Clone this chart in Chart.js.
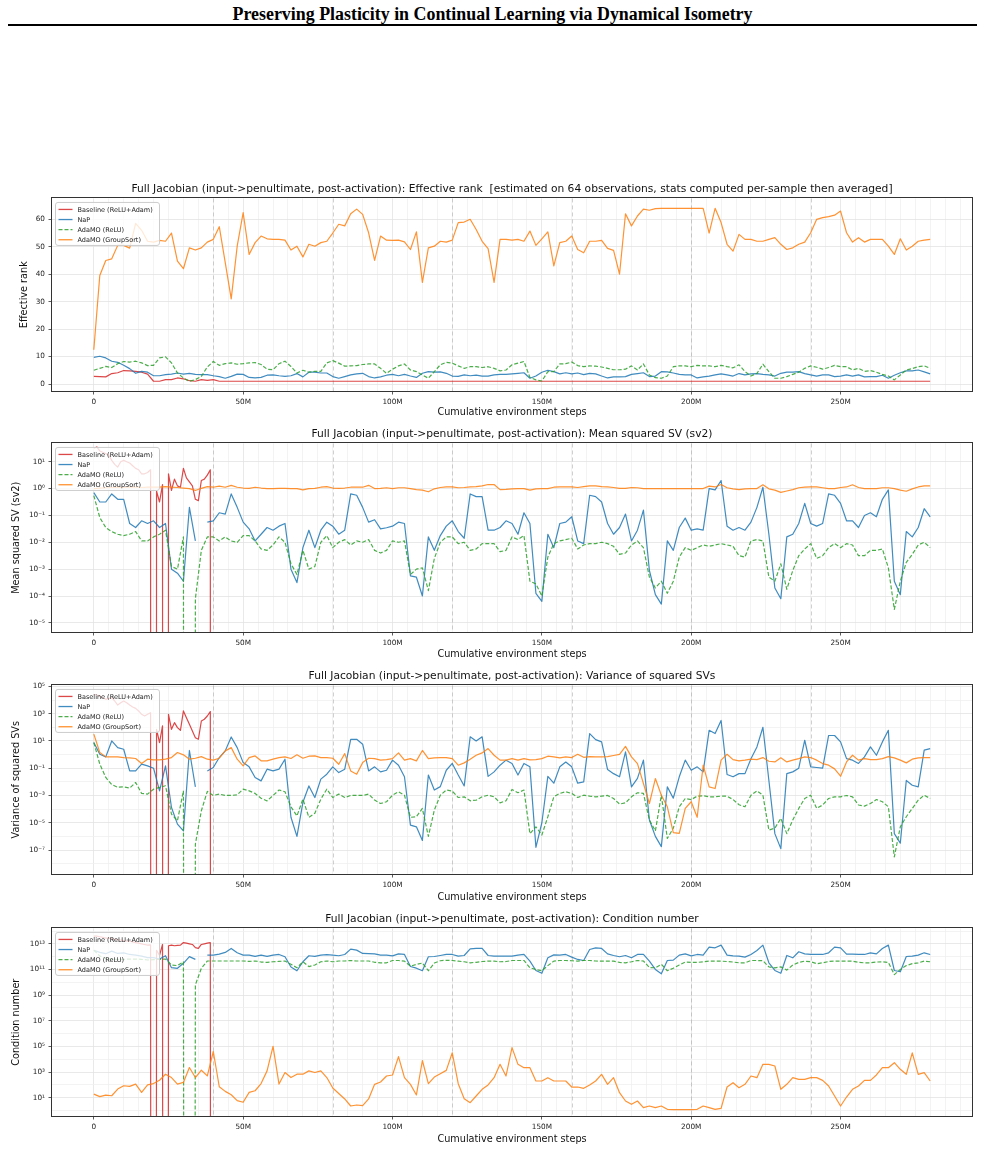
<!DOCTYPE html>
<html><head><meta charset="utf-8">
<script src="https://cdn.jsdelivr.net/npm/chart.js@4.4.1/dist/chart.umd.min.js"></script>
<style>
html,body{margin:0;padding:0;background:#fff;}
body{width:985px;height:1168px;position:relative;overflow:hidden;}
#hdr{position:absolute;top:4px;left:0;width:985px;text-align:center;font:bold 17.9px "Liberation Serif",serif;color:#000;line-height:20px;}
#rule{position:absolute;left:8px;top:24px;width:969px;height:2px;background:#000;}
canvas{position:absolute;left:0;}
</style></head>
<body>
<div id="hdr">Preserving Plasticity in Continual Learning via Dynamical Isometry</div>
<div id="rule"></div>
<canvas id="c1" width="985" height="241" style="top:179px"></canvas>
<canvas id="c2" width="985" height="238" style="top:424px"></canvas>
<canvas id="c3" width="985" height="239" style="top:666px"></canvas>
<canvas id="c4" width="985" height="238" style="top:909px"></canvas>
<script>
// ---------------- DATA ----------------
const seriesLabels = ["Baseline (ReLU+Adam)", "NaP", "AdaMO (ReLU)", "AdaMO (GroupSort)"];
const xTickValuesM = [0, 50, 100, 150, 200, 250];
const xTickLabels = ["0", "50M", "100M", "150M", "200M", "250M"];
const taskBoundariesM = [40, 80, 120, 160, 200, 240];
const OFF = -300; // log10 of a value that underflows to zero (drawn off the bottom of a log axis)

// cumulative environment steps (millions)
const stepsM = [0,2,4,6,8,10,12,14,16,18,20,22,24,26,28,30,32,34,36,38,40,42,44,46,48,50,52,54,56,58,60,62,64,66,68,70,72,74,76,78,80,82,84,86,88,90,92,94,96,98,100,102,104,106,108,110,112,114,116,118,120,122,124,126,128,130,132,134,136,138,140,142,144,146,148,150,152,154,156,158,160,162,164,166,168,170,172,174,176,178,180,182,184,186,188,190,192,194,196,198,200,202,204,206,208,210,212,214,216,218,220,222,224,226,228,230,232,234,236,238,240,242,244,246,248,250,252,254,256,258,260,262,264,266,268,270,272,274,276,278,280];
const baselineStepsM = [0,1,2,3,4,5,6,7,8,9,10,11,12,13,14,15,16,17,18,19,20,21,22,23,24,25,26,27,28,29,30,31,32,33,34,35,36,37,38,39,40];

// Panel 1: effective rank
const rankBaseline = [2.8,2.7,2.6,3.8,4.1,4.9,4.8,4.6,4.3,3.6,
1.0,1.0,1.6,1.6,2.2,1.9,1.2,1.0,1.6,1.3,1.6,
1,1,1,1,1,1,1,1,1,1, 1,1,1,1,1,1,1,1,1,1, 1,1,1,1,1,1,1,1,1,1, 1,1,1,1,1,1,1,1,1,1,
1,1,1,1,1,1,1,1,1,1, 1,1,1,1,1,1,1,1,1,1, 1,1,1,1,1,1,1,1,1,1, 1,1,1,1,1,1,1,1,1,1,
1,1,1,1,1,1,1,1,1,1, 1,1,1,1,1,1,1,1,1,1, 1,1,1,1,1,1,1,1,1,1, 1,1,1,1,1,1,1,1,1,1];
const rankNaP = [9.7,10.1,9.5,8.3,7.9,6.8,5.6,3.9,4.6,4.3,
3.0,3.0,3.4,3.6,4.0,3.6,3.9,3.5,3.4,3.4,
3.0,2.7,2.1,2.8,3.6,3.5,2.4,2.2,2.4,3.2,
3.3,3.0,2.8,3.0,3.8,2.6,4.3,4.3,4.0,4.0,
2.7,2.1,2.7,3.3,3.7,3.9,2.7,2.2,2.6,3.2,
3.5,3.0,3.5,2.9,2.4,3.9,4.5,4.3,4.4,3.9,
2.9,2.8,3.3,3.0,3.2,2.9,2.9,3.3,3.5,3.5,
3.7,3.9,4.1,2.1,2.9,4.3,5.0,4.5,3.7,4.1,
3.7,4.0,3.4,3.9,3.7,2.9,2.2,2.6,2.6,2.7,
3.5,3.8,4.1,2.7,2.9,4.5,4.4,4.0,3.5,3.3,
3.3,2.2,2.6,2.9,3.3,3.7,3.3,2.9,3.8,3.3,
3.7,3.8,3.5,3.3,2.9,3.9,4.3,4.3,4.5,3.8,
3.3,2.9,3.3,3.3,2.7,2.9,3.3,2.9,3.3,2.6,
2.7,2.7,3.2,2.1,3.2,4.1,4.8,4.8,5.1,4.4,
3.7];
const rankReLU = [5.0,5.7,6.4,6.0,7.4,8.2,8.0,8.3,7.7,6.7,
6.8,9.5,9.9,7.7,4.0,2.2,1.0,1.6,2.8,6.2,
8.2,6.8,7.4,7.7,7.2,7.4,7.7,7.8,7.1,5.4,
5.2,7.4,8.3,6.4,4.0,5.0,4.3,4.6,4.6,7.7,
8.5,7.6,6.5,6.6,6.7,7.1,7.3,7.3,5.7,3.9,
5.4,6.6,7.3,5.1,4.5,3.3,2.1,4.5,7.0,7.9,
7.6,6.6,5.7,6.3,6.3,6.0,6.3,5.7,4.8,5.1,
7.0,7.6,8.2,2.4,1.5,1.1,4.5,4.5,7.3,7.4,
8.0,6.7,6.3,6.6,6.5,6.2,5.7,5.2,5.2,5.4,
6.6,5.1,7.3,3.3,2.3,2.1,2.9,6.3,6.6,6.6,
6.3,6.8,6.6,6.6,6.3,6.8,6.3,5.9,7.0,4.5,
2.9,3.9,7.2,4.5,2.1,2.1,2.7,3.5,4.3,5.7,
6.6,6.1,5.4,6.0,6.8,6.3,6.3,5.1,5.7,4.6,
4.9,4.3,3.5,2.9,1.5,3.3,5.1,5.6,6.3,6.6,
5.7];
const rankGroupSort = [12.5,39.5,45.0,45.6,50.5,50.5,49.5,58.5,56.0,52.0,
51.7,52.3,52.0,55.0,44.8,42.0,49.6,48.8,49.6,51.7,
52.7,57.3,44.2,31.0,50.2,62.4,47.2,51.5,53.9,52.9,
52.7,52.7,52.4,48.8,50.2,46.3,50.9,50.2,51.5,52.0,
55.0,58.2,57.6,62.0,63.7,61.8,55.1,45.0,53.9,52.4,
52.3,52.4,51.8,49.0,55.4,37.0,49.6,50.2,52.0,51.7,
52.4,58.8,59.0,60.0,56.3,52.0,49.3,37.0,52.7,52.7,
52.4,52.7,52.0,55.7,50.5,52.9,55.4,43.0,51.5,52.0,
53.9,49.0,47.8,52.0,52.0,52.3,49.4,48.7,40.0,62.0,
57.6,61.2,63.7,63.3,63.9,64.0,64.0,64.0,64.0,64.0,
64.0,64.0,64.0,55.0,64.0,58.8,50.9,48.4,54.5,52.7,
52.7,52.0,52.0,52.7,53.3,50.9,49.0,49.6,50.9,51.7,
55.1,60.0,60.6,61.0,61.5,63.0,55.1,51.7,53.3,51.7,
52.7,52.7,52.7,50.2,47.2,52.9,48.8,50.2,52.0,52.4,
52.7];

// Panel 2: mean squared SV, stored as log10 values
const sv2BaselineLog10 = [1.5,1.55,1.4,1.35,1.3,1.25,1.05,0.9,0.8,1.0,
1.05,1.0,0.95,0.85,0.75,0.7,0.55,0.55,0.6,0.7,
OFF,-0.1,-0.5,0.15,OFF,0.55,-0.07,0.35,0.1,0.05,
0.75,0.4,0.25,0.1,-0.4,-0.45,0.3,0.35,0.5,0.7,
OFF];
const sv2NaPLog10 = [-0.15,-0.5,-0.5,-0.2,-0.4,-0.4,-1.3,-1.45,-1.2,-1.3,
-1.2,-1.45,-1.3,-3.0,-3.15,-3.45,-0.7,-1.95,null,-1.25,
-1.2,-0.9,-0.95,-0.2,-0.7,-1.25,-1.5,-1.95,-1.7,-1.45,
-1.55,-1.4,-1.3,-3.0,-3.5,-2.2,-1.55,-2.2,-1.55,-1.25,
-1.4,-1.7,-1.55,-0.2,-0.25,-0.7,-1.25,
-1.16,-1.5,-1.46,
-1.4,-1.25,-1.3,-3.25,-3.3,-4.0,-1.8,-2.3,-1.75,-1.4,
-1.2,-1.6,-1.85,-0.2,-0.3,-0.3,-1.55,-1.55,-1.45,-1.2,
-1.3,-1.7,-0.9,-1.3,-3.9,-4.2,-1.7,-2.2,-1.3,-1.25,
-1.05,-1.95,-2.05,-0.25,-0.3,-0.5,-1.3,-1.7,-1.45,-0.95,
-1.95,-1.55,-0.8,-3.05,-3.95,-4.3,-1.95,-2.3,-1.45,-1.1,
-1.55,-1.5,-1.55,0.0,-0.05,0.3,-1.4,-1.55,-1.45,-1.55,
-1.25,-0.7,0.05,-1.7,-3.7,-4.1,-1.8,-1.7,-1.3,-0.55,
-1.3,-1.4,-1.3,-0.2,-0.25,-0.55,-1.2,-1.2,-1.45,-1.0,
-0.9,-1.05,-0.4,-0.05,-3.45,-3.95,-1.6,-1.8,-1.45,-0.75,
-1.05];
const sv2ReLULog10 = [-0.26,-1.08,-1.45,-1.6,-1.7,-1.75,-1.7,-1.6,-1.95,-1.95,
-1.8,-1.7,-1.55,-2.9,-3.0,-1.8,OFF,-4.1,-2.3,-1.8,
-1.8,-1.95,-1.8,-1.95,-2.0,-1.75,-1.75,-1.95,-2.25,-2.3,
-2.1,-1.8,-2.0,-2.8,-3.2,-2.3,-3.0,-2.9,-2.0,-1.75,
-2.2,-2.0,-1.9,-2.1,-1.95,-2.0,-1.9,
-2.3,-2.4,-2.3,
-1.95,-2.0,-1.95,-3.2,-3.0,-2.95,-3.8,-2.6,-2.0,-1.8,
-1.8,-2.05,-2.0,-2.3,-2.25,-2.05,-2.05,-2.05,-2.35,-2.3,
-1.8,-1.9,-1.75,-3.45,-3.55,-4.0,-2.55,-2.05,-1.95,-1.9,
-1.85,-2.25,-2.1,-2.05,-2.05,-2.0,-2.05,-2.15,-2.45,-2.4,
-2.1,-1.95,-2.2,-3.3,-3.7,-3.45,-3.9,-3.45,-2.55,-2.2,
-2.3,-2.2,-2.1,-2.15,-2.1,-2.05,-2.1,-2.15,-2.5,-2.55,
-1.95,-1.9,-1.95,-3.3,-3.45,-2.8,-3.75,-3.05,-2.5,-2.25,
-2.05,-2.6,-2.5,-2.2,-2.05,-2.2,-2.05,-2.1,-2.5,-2.5,
-2.3,-2.3,-2.25,-2.95,-4.5,-3.45,-2.75,-2.45,-2.1,-2.0,
-2.2];
const sv2GroupSortLog10 = [0.0,0.02,0.03,0.04,0.05,0.04,0.05,0.05,0.04,0.05,
0.05,0.05,0.07,0.05,0.04,0.02,0.0,-0.07,0.01,0.07,
0.05,0.09,0.05,0.12,0.05,0.02,0.01,0.05,0.02,0.0,
0.0,0.01,0.01,0.0,0.0,-0.05,0.0,0.01,0.05,0.07,
0.02,0.01,0.02,0.05,0.05,0.05,0.12,
0.0,0.01,0.03,
0.0,0.03,0.03,0.0,-0.04,-0.06,-0.12,-0.01,0.04,0.06,
0.06,0.03,0.04,0.06,0.07,0.1,0.15,0.15,-0.04,-0.03,
-0.01,0.0,0.0,-0.06,-0.01,0.0,0.0,0.05,0.06,0.06,
0.06,0.04,0.07,0.1,0.1,0.07,0.06,0.04,0.01,0.01,
0.04,0.03,0.0,0.0,0.0,0.0,0.0,0.0,0.0,0.0,
0.0,0.0,0.0,0.09,0.06,0.15,0.03,-0.01,-0.04,-0.01,
0.0,0.0,0.14,-0.01,-0.06,-0.14,-0.09,-0.04,0.03,0.05,
0.06,0.06,0.03,0.0,0.0,0.04,0.06,0.14,0.04,0.0,
0.0,0.0,0.03,0.03,0.0,-0.06,-0.1,-0.01,0.06,0.1,
0.1];

// Panel 3: variance of squared SVs (log10)
const varBaselineLog10 = [4.4,4.37,4.3,4.17,4.05,4.12,4.17,3.93,3.63,3.8,
3.93,3.8,3.63,3.49,3.39,3.2,2.95,2.83,2.95,3.07,
OFF,1.85,0.88,2.1,OFF,2.95,1.85,2.34,1.98,1.78,
3.2,2.7,2.22,1.73,1.24,1.12,2.46,2.59,2.83,3.15,
OFF];
const varNaPLog10 = [0.88,0.02,-0.17,1.0,0.51,0.39,-1.2,-1.2,-0.7,-0.83,
-1.0,-2.66,-0.83,-3.88,-5.1,-5.6,0.3,-2.37,null,-1.2,
-0.95,-0.22,0.27,1.29,0.51,-0.59,-0.9,-1.68,-1.93,-1.07,
-1.2,-1.07,-0.34,-4.6,-6.0,-3.5,-2.3,-3.15,-1.8,-1.44,
-0.9,-1.32,-1.07,1.12,1.12,0.76,-1.2,
-0.9,-1.27,-1.15,
-0.41,-0.78,-1.63,-5.17,-5.3,-6.3,-1.5,-2.6,-2.35,-1.15,
-0.65,-1.5,-2.3,1.3,1.0,1.3,-1.6,-1.27,-0.78,-0.41,
-0.65,-1.5,-0.65,-0.9,-6.8,-5.0,-1.6,-2.1,-0.9,-0.55,
-0.9,-2.1,-2.0,1.54,1.1,0.93,-1.1,-1.4,-1.63,0.2,
-2.37,-1.75,-0.41,-4.8,-6.0,-6.75,-2.37,-3.2,-1.63,-0.41,
-1.15,-0.9,-1.27,1.78,1.54,2.5,-1.46,-1.63,-1.4,-1.4,
-0.3,0.56,2.0,-1.9,-5.8,-6.9,-1.4,-1.27,-1.0,1.05,
-0.9,-0.95,-1.0,1.4,1.4,0.93,-0.3,-0.41,-0.65,-0.17,
0.56,-0.05,0.93,1.78,-5.8,-6.5,-1.9,-2.25,-2.37,0.32,
0.44];
const varReLULog10 = [0.88,-0.7,-1.68,-2.2,-2.4,-2.37,-2.46,-2.05,-2.85,-2.9,
-2.54,-2.41,-2.29,-4.37,-4.85,-2.66,OFF,-6.56,-4.12,-2.7,
-3.0,-2.9,-3.0,-3.0,-2.95,-2.54,-2.66,-2.85,-3.2,-3.4,
-3.0,-2.6,-2.73,-3.83,-4.5,-3.27,-4.6,-4.3,-3.27,-2.54,
-3.15,-2.9,-3.15,-3.0,-3.0,-3.0,-2.9,
-3.34,-3.59,-3.46,
-2.98,-2.73,-2.98,-4.6,-4.56,-3.95,-6.0,-4.07,-2.98,-2.6,
-2.68,-3.15,-3.1,-3.39,-3.34,-3.1,-2.98,-3.1,-3.54,-3.39,
-2.56,-2.8,-2.6,-5.8,-5.3,-5.9,-4.56,-3.1,-2.85,-2.73,
-2.85,-3.15,-2.98,-3.05,-3.1,-3.05,-3.0,-3.22,-3.63,-3.54,
-3.1,-2.8,-2.85,-4.8,-5.6,-2.98,-6.15,-5.4,-3.83,-3.22,
-3.3,-3.05,-3.02,-3.1,-3.1,-3.05,-3.05,-3.3,-3.68,-3.83,
-2.98,-2.66,-2.98,-5.54,-5.4,-4.68,-5.8,-4.8,-3.95,-3.22,
-2.98,-3.95,-3.7,-3.22,-3.1,-3.1,-3.0,-3.1,-3.7,-3.78,
-3.59,-3.3,-3.46,-3.83,-7.5,-5.3,-4.56,-3.95,-3.34,-2.98,
-3.22];
const varGroupSortLog10 = [1.5,0.15,-0.17,-0.17,-0.17,-0.22,-0.24,-0.29,-0.66,-0.34,
-0.39,-0.39,-0.34,-0.22,0.15,-0.02,-0.34,-0.27,-0.15,-0.34,
-0.41,-0.27,0.27,0.51,-0.34,-0.83,-0.22,-0.1,-0.46,-0.46,
-0.34,-0.22,-0.17,-0.29,-0.02,-0.27,-0.12,-0.1,-0.22,-0.22,
-0.27,-0.71,0.07,-1.2,-1.44,-0.59,-0.27,
-0.3,-0.41,-0.37,
-0.3,0.12,-0.41,-0.3,-0.46,0.3,-0.3,-0.24,-0.22,-0.22,
-0.3,-0.78,-0.61,-0.34,-0.05,0.12,0.44,-0.05,-0.41,-0.41,
-0.3,-0.41,-0.3,-0.39,-0.37,-0.3,-0.12,-0.17,-0.24,-0.17,
-0.22,0.02,-0.2,-0.15,-0.17,-0.17,-0.15,-0.07,0.02,0.6,
-0.17,-0.66,-2.12,-3.59,-1.76,-2.98,-3.83,-5.73,-5.78,-3.95,
-3.46,-4.6,-0.78,-2.37,-2.49,-0.41,0.02,-0.37,-0.46,-0.41,
-0.34,-0.37,-0.22,-0.49,-0.54,-0.24,-0.54,-0.41,-0.3,-0.17,
-0.22,-0.41,-0.66,-0.78,-1.05,-1.59,-0.54,-0.05,-0.41,-0.3,
-0.37,-0.37,-0.3,-0.15,-0.24,-0.41,-0.61,-0.34,-0.24,-0.22,
-0.22];

// Panel 4: condition number (log10)
const condBaselineLog10 = [13.6,13.6,13.55,13.5,13.45,13.45,13.4,13.35,13.3,13.3,
13.25,13.2,13.2,13.15,13.1,13.05,13.0,12.95,12.9,12.92,
OFF,12.5,12.1,12.95,OFF,12.85,12.9,12.85,12.88,12.9,
13.1,13.05,13.0,12.95,12.7,12.65,12.95,13.0,13.05,13.1,
OFF];
const condNaPLog10 = [12.5,12.33,12.23,12.43,12.25,12.3,12.17,12.12,12.04,11.92,
11.92,11.81,12.07,11.14,11.09,11.48,12.0,11.79,null,12.12,
12.12,12.2,12.33,12.64,12.3,12.12,12.12,12.02,12.12,12.02,
12.12,12.17,11.99,11.19,10.9,11.6,12.07,12.02,12.12,12.15,
12.12,12.07,12.17,12.59,12.51,12.25,12.23,
12.22,12.12,12.12,
12.06,12.22,12.17,11.23,11.1,10.9,11.99,12.01,12.09,12.17,
12.17,12.04,12.09,12.61,12.64,12.64,12.09,12.04,12.04,12.04,
12.04,12.12,12.17,11.65,10.92,10.7,11.91,12.14,12.12,12.17,
11.96,11.78,11.7,12.56,12.69,12.64,12.22,12.09,11.99,12.09,
11.91,12.17,12.17,11.65,11.0,10.66,11.7,11.73,12.12,12.22,
12.06,12.17,12.12,12.74,12.69,12.9,12.12,12.06,12.04,11.96,
12.17,12.48,12.9,11.52,10.92,10.7,12.09,11.91,12.38,12.22,
12.17,12.17,12.17,12.3,12.74,12.69,12.2,12.2,12.17,12.17,
12.3,12.22,12.64,12.9,10.92,10.82,12.01,12.04,12.12,12.3,
12.17];
const condReLULog10 = [12.5,12.05,11.86,11.81,11.76,11.79,11.81,11.81,11.79,11.74,
11.76,11.79,11.81,11.35,11.3,11.6,OFF,9.8,11.09,11.66,
11.66,11.66,11.66,11.66,11.66,11.66,11.63,11.66,11.58,11.55,
11.6,11.63,11.66,11.4,11.14,11.6,11.22,11.35,11.6,11.66,
11.6,11.66,11.66,11.7,11.66,11.66,11.66,
11.56,11.52,11.52,
11.7,11.7,11.65,11.26,11.39,11.5,10.9,11.5,11.68,11.72,
11.7,11.65,11.6,11.52,11.56,11.62,11.65,11.65,11.6,11.62,
11.7,11.7,11.7,11.13,11.0,10.9,11.3,11.65,11.7,11.7,
11.68,11.65,11.7,11.7,11.66,11.65,11.65,11.65,11.55,11.52,
11.6,11.7,11.66,11.15,11.13,11.4,10.9,11.1,11.35,11.58,
11.55,11.55,11.6,11.65,11.65,11.65,11.62,11.58,11.52,11.52,
11.7,11.7,11.68,11.2,11.13,11.2,10.95,11.35,11.55,11.65,
11.6,11.45,11.52,11.62,11.65,11.65,11.65,11.65,11.55,11.52,
11.52,11.58,11.6,11.55,10.6,11.0,11.3,11.45,11.52,11.65,
11.6];
const condGroupSortLog10 = [1.28,1.08,1.2,1.15,1.67,1.93,1.88,2.06,1.41,2.0,
2.1,2.36,2.83,2.57,2.06,2.19,3.35,2.57,3.14,2.7,
4.6,1.85,1.49,1.23,0.77,0.64,1.41,1.54,2.1,3.09,
5.0,2.06,2.96,2.57,2.83,2.83,3.09,2.96,3.09,2.57,
1.75,1.33,0.9,0.35,0.43,0.38,0.9,
2.04,2.22,2.69,
2.77,4.2,2.56,2.04,1.21,3.9,2.09,2.61,2.87,3.13,
4.5,2.09,0.92,0.61,1.13,1.65,1.99,2.56,3.6,2.69,
4.9,3.6,3.34,3.34,2.3,2.3,2.56,2.3,2.3,2.3,
1.83,1.83,1.73,1.99,2.3,2.82,2.04,2.56,1.39,0.74,
0.48,0.74,0.22,0.35,0.22,0.35,0.09,0.06,0.06,0.06,
0.06,0.09,0.35,0.22,0.09,0.17,1.83,2.17,1.78,2.04,
2.69,2.56,3.6,3.6,3.47,1.65,2.04,2.56,2.43,2.43,
2.56,2.56,2.35,1.91,1.13,0.35,1.05,1.65,1.91,2.35,
2.35,2.77,3.34,3.34,3.73,3.21,2.82,4.5,2.82,2.95,
2.3];

// y tick exponents
const sv2TickExps = [1,0,-1,-2,-3,-4,-5];
const varTickExps = [5,3,1,-1,-3,-5,-7];
const varMinorExps = [4,2,0,-2,-4,-6,-8];
const condTickExps = [13,11,9,7,5,3,1];
const condMinorExps = [14,12,10,8,6,4,2,0];
const rankTicks = [0,10,20,30,40,50,60];

// ---------------- RENDERING ----------------
Chart.defaults.font.family = "'DejaVu Sans'";
const COL = {
  red: 'rgba(214,39,40,0.85)', blue: 'rgba(31,119,180,0.85)',
  green: 'rgba(44,160,44,0.85)', orange: 'rgba(255,127,14,0.85)'
};
const GRID_MAJOR = '#e3e3e3', GRID_MINOR = '#f0f0f0', TICK = '#333';
const SUP = {'0':'\u2070','1':'\u00b9','2':'\u00b2','3':'\u00b3','4':'\u2074','5':'\u2075','6':'\u2076','7':'\u2077','8':'\u2078','9':'\u2079','-':'\u207b'};
const sup = n => String(n).split('').map(c => SUP[c]).join('');
const pts = (xs, ys, log) => xs.map((x, i) => ({x: x, y: ys[i] === null ? null : (log ? Math.pow(10, ys[i]) : ys[i])}));

const overlay = {
  id: 'overlay',
  beforeDatasetsDraw(chart) {
    const {ctx, chartArea: a, scales: {x}} = chart;
    ctx.save();
    ctx.strokeStyle = 'rgba(150,150,150,0.45)';
    ctx.lineWidth = 1;
    ctx.setLineDash([4, 3]);
    taskBoundariesM.forEach(m => {
      const px = Math.round(x.getPixelForValue(m)) + 0.5;
      ctx.beginPath(); ctx.moveTo(px, a.top); ctx.lineTo(px, a.bottom); ctx.stroke();
    });
    ctx.restore();
  },
  afterDatasetsDraw(chart) {
    const {ctx, chartArea: a} = chart;
    ctx.save();
    ctx.setLineDash([]);
    ctx.strokeStyle = '#333'; ctx.lineWidth = 1;
    const L = Math.round(a.left) - 0.5, T = Math.round(a.top) - 0.5;
    ctx.strokeRect(L, T, Math.round(a.right) - Math.round(a.left) + 1, Math.round(a.bottom) - Math.round(a.top) + 1);
    // legend
    const x0 = a.left + 3.5, y0 = a.top + 4, w = 104, h = 43, r = 2.5;
    ctx.beginPath();
    ctx.moveTo(x0 + r, y0); ctx.lineTo(x0 + w - r, y0); ctx.quadraticCurveTo(x0 + w, y0, x0 + w, y0 + r);
    ctx.lineTo(x0 + w, y0 + h - r); ctx.quadraticCurveTo(x0 + w, y0 + h, x0 + w - r, y0 + h);
    ctx.lineTo(x0 + r, y0 + h); ctx.quadraticCurveTo(x0, y0 + h, x0, y0 + h - r);
    ctx.lineTo(x0, y0 + r); ctx.quadraticCurveTo(x0, y0, x0 + r, y0); ctx.closePath();
    ctx.fillStyle = 'rgba(255,255,255,0.8)'; ctx.fill();
    ctx.strokeStyle = '#cccccc'; ctx.lineWidth = 1; ctx.stroke();
    ctx.font = "6.5px 'DejaVu Sans'"; ctx.textBaseline = 'middle'; ctx.textAlign = 'left';
    chart.data.datasets.forEach((ds, i) => {
      const yy = y0 + 7 + i * 10.1;
      ctx.strokeStyle = ds.borderColor; ctx.lineWidth = 1.3;
      ctx.setLineDash(ds.borderDash || []);
      ctx.beginPath(); ctx.moveTo(x0 + 3, yy); ctx.lineTo(x0 + 17, yy); ctx.stroke();
      ctx.setLineDash([]);
      ctx.fillStyle = '#222'; ctx.fillText(ds.label, x0 + 22, yy + 0.5);
    });
    ctx.restore();
  }
};

function gridOpts() {
  return {
    color: c => (c.tick && c.tick.lab) ? GRID_MAJOR : GRID_MINOR,
    tickColor: c => (c.tick && c.tick.lab) ? TICK : 'rgba(0,0,0,0)',
    lineWidth: 0.8, tickLength: 3.5, drawTicks: true
  };
}

function build(id, cfg) {
  const log = cfg.log;
  const base = {borderWidth: 1.2, pointRadius: 0, pointHoverRadius: 0, fill: false, tension: 0, spanGaps: false, borderJoinStyle: 'round'};
  const datasets = [
    Object.assign({}, base, {label: seriesLabels[0], data: pts(cfg.baseX, cfg.base, log), borderColor: COL.red, order: 3}),
    Object.assign({}, base, {label: seriesLabels[1], data: pts(stepsM, cfg.nap, log), borderColor: COL.blue, order: 2}),
    Object.assign({}, base, {label: seriesLabels[2], data: pts(stepsM, cfg.relu, log), borderColor: COL.green, borderDash: [4, 2], order: 1}),
    Object.assign({}, base, {label: seriesLabels[3], data: pts(stepsM, cfg.gs, log), borderColor: COL.orange, order: 0})
  ];
  new Chart(document.getElementById(id), {
    type: 'line',
    data: {datasets},
    plugins: [overlay],
    options: {
      responsive: false, animation: false, devicePixelRatio: 1, events: [],
      layout: {padding: {left: 0, right: 13, top: 0, bottom: 0}},
      plugins: {
        legend: {display: false}, tooltip: {enabled: false},
        title: {display: true, text: cfg.title, fullSize: false, color: '#111',
                font: {size: 10.7, weight: 'normal'}, padding: {top: 4, bottom: 2.6}}
      },
      scales: {
        x: {
          type: 'linear', min: -14, max: 294,
          afterBuildTicks: s => { const t = []; for (let v = 0; v <= 290; v += 5) t.push({value: v, lab: xTickValuesM.indexOf(v) >= 0}); s.ticks = t; },
          ticks: {autoSkip: false, maxRotation: 0, minRotation: 0, font: {size: 7.3}, color: '#222', padding: 3.5,
                  callback: (v, i, t) => t[i].lab ? xTickLabels[xTickValuesM.indexOf(v)] : ''},
          grid: gridOpts(), border: {display: false},
          title: {display: true, text: 'Cumulative environment steps', color: '#111', font: {size: 9.7}, padding: {top: 0, bottom: 2}},
          afterFit: s => { s.height = cfg.xH; }
        },
        y: {
          type: log ? 'logarithmic' : 'linear',
          min: cfg.yMin, max: cfg.yMax,
          afterBuildTicks: s => { s.ticks = cfg.yTicks.map(t => ({value: t.v, lab: t.lab, text: t.text})); },
          ticks: {autoSkip: false, font: {size: 7.3}, color: '#222', padding: 3.5,
                  callback: (v, i, t) => t[i].lab ? t[i].text : ''},
          grid: gridOpts(), border: {display: false},
          title: {display: true, text: cfg.ylabel, color: '#111', font: {size: 9.7}, padding: cfg.yPad},
          afterFit: s => { s.width = 52; }
        }
      }
    }
  });
}

const logTicks = (major, minor) => major.map(e => ({v: Math.pow(10, e), lab: true, text: '10' + sup(e)}))
  .concat(minor.map(e => ({v: Math.pow(10, e), lab: false, text: ''})));
const T0 = 'Full Jacobian (input->penultimate, post-activation): ';

build('c1', {log: false, title: T0 + 'Effective rank  [estimated on 64 observations, stats computed per-sample then averaged]',
  ylabel: 'Effective rank', yPad: 19, xH: 29, yMin: -2.55, yMax: 67.6,
  yTicks: rankTicks.map(v => ({v: v, lab: true, text: String(v)})),
  baseX: stepsM, base: rankBaseline, nap: rankNaP, relu: rankReLU, gs: rankGroupSort});
build('c2', {log: true, title: T0 + 'Mean squared SV (sv2)', ylabel: 'Mean squared SV (sv2)', yPad: 11, xH: 30,
  yMin: Math.pow(10, -5.34), yMax: Math.pow(10, 1.68), yTicks: logTicks(sv2TickExps, []),
  baseX: baselineStepsM, base: sv2BaselineLog10, nap: sv2NaPLog10, relu: sv2ReLULog10, gs: sv2GroupSortLog10});
build('c3', {log: true, title: T0 + 'Variance of squared SVs', ylabel: 'Variance of squared SVs', yPad: 11, xH: 31,
  yMin: Math.pow(10, -8.76), yMax: Math.pow(10, 5.07), yTicks: logTicks(varTickExps, varMinorExps),
  baseX: baselineStepsM, base: varBaselineLog10, nap: varNaPLog10, relu: varReLULog10, gs: varGroupSortLog10});
build('c4', {log: true, title: T0 + 'Condition number', ylabel: 'Condition number', yPad: 11, xH: 31,
  yMin: Math.pow(10, -0.43), yMax: Math.pow(10, 14.2), yTicks: logTicks(condTickExps, condMinorExps),
  baseX: baselineStepsM, base: condBaselineLog10, nap: condNaPLog10, relu: condReLULog10, gs: condGroupSortLog10});
</script>
</body></html>
